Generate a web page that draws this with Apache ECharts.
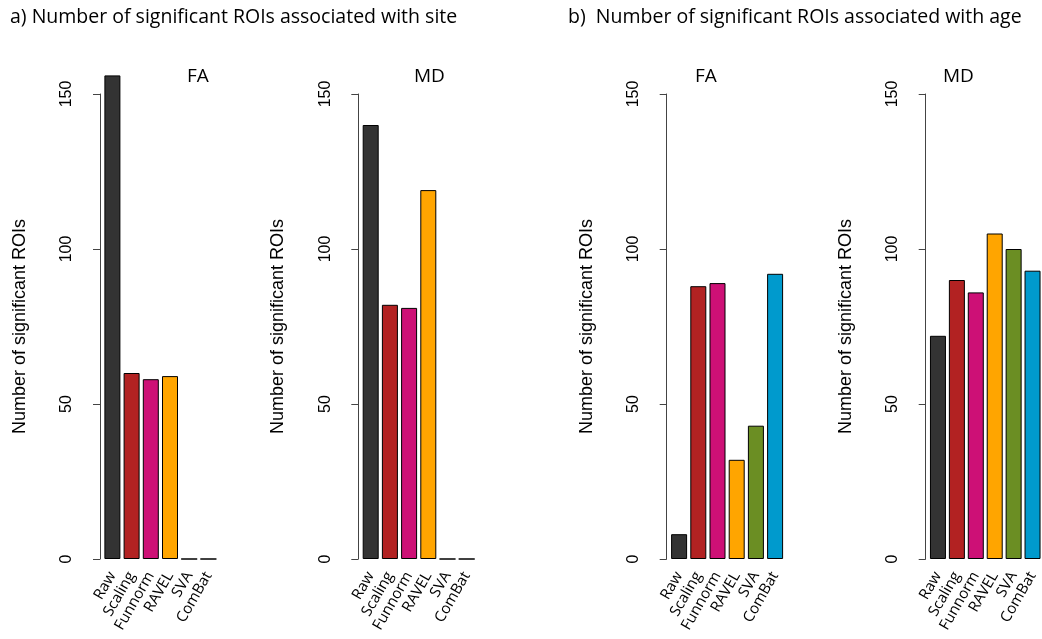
<!DOCTYPE html>
<html><head><meta charset="utf-8">
<script src="https://cdn.jsdelivr.net/npm/echarts@6/dist/echarts.min.js"></script>
<style>html,body{margin:0;padding:0;background:#fff}#c{width:1042px;height:639px}</style>
</head><body><div id="c"></div>
<script>
const categories = ['Raw','Scaling','Funnorm','RAVEL','SVA','ComBat'];
const colors = ['#333333','#B22222','#CD1076','#FFA500','#6B8E23','#009ACD'];
const siteFA = [156, 60, 58, 59, 0, 0];
const siteMD = [140, 82, 81, 119, 0, 0];
const ageFA = [8, 88, 89, 32, 43, 92];
const ageMD = [72, 90, 86, 105, 100, 93];
const yTicks = [0, 50, 100, 150];
const panelTitles = ['FA','MD','FA','MD'];
const panelData = [siteFA, siteMD, ageFA, ageMD];
const axisX = [100, 358.3, 666.7, 925.7];
const titleLeft = [187, 414, 695, 943];

const chart = echarts.init(document.getElementById('c'), null, {renderer:'canvas'});
const grids = [], xAxes = [], yAxes = [], series = [], graphics = [];
const bandW = 19.2, shift = 2.8;
panelData.forEach((d, i) => {
  grids.push({left: axisX[i] + shift, top: 94, height: 465, width: bandW * 6});
  xAxes.push({type:'category', gridIndex:i, data:categories,
    axisLine:{show:false}, axisTick:{show:false},
    axisLabel:{interval:0, rotate:60, margin:14, fontFamily:'Open Sans', fontSize:15, color:'#000'}});
  yAxes.push({type:'value', gridIndex:i, min:yTicks[0], max:yTicks[yTicks.length-1], interval:50,
    offset: shift, splitLine:{show:false},
    axisLine:{show:true, lineStyle:{color:'#444', width:1}},
    axisTick:{show:true, length:7, lineStyle:{color:'#444'}},
    axisLabel:{rotate:90, margin:25, fontFamily:'Liberation Sans', fontSize:16, color:'#000'},
    name:'Number of significant ROIs', nameLocation:'middle', nameRotate:90, nameGap:71,
    nameTextStyle:{fontFamily:'Liberation Sans', fontSize:18, color:'#000'}});
  series.push({type:'bar', xAxisIndex:i, yAxisIndex:i, barWidth:16, clip:false,
    data: d.map((v, k) => ({value:v, itemStyle:{color:colors[k]}})),
    itemStyle:{borderColor:'#000', borderWidth:1}});
  graphics.push({type:'text', left: titleLeft[i], top: 67,
    style:{text: panelTitles[i], font:'19px "Open Sans"', fill:'#000'}});
});
graphics.push({type:'text', left:10, top:7, style:{text:'a) Number of significant ROIs associated with site', font:'19.5px "Open Sans"', fill:'#000'}});
graphics.push({type:'text', left:568, top:7, style:{text:'b)  Number of significant ROIs associated with age', font:'19.5px "Open Sans"', fill:'#000'}});

chart.setOption({animation:false, grid:grids, xAxis:xAxes, yAxis:yAxes, series:series, graphic:graphics});
</script></body></html>
